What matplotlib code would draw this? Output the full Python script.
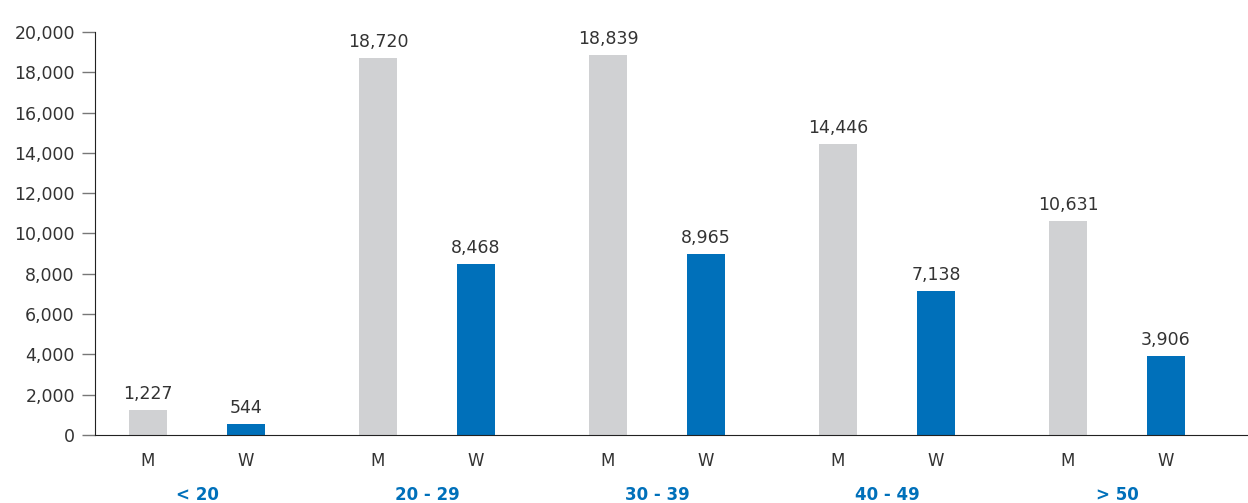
import matplotlib
matplotlib.use("Agg")
import matplotlib.pyplot as plt

groups = ["< 20", "20 - 29", "30 - 39", "40 - 49", "> 50"]
men = [1227, 18720, 18839, 14446, 10631]
women = [544, 8468, 8965, 7138, 3906]
sub_labels = ["M", "W"]
yticks = list(range(0, 20001, 2000))

gray = "#D0D1D3"
blue = "#0070BA"
txt = "#333333"

plt.rcParams['font.family'] = ['DejaVu Sans']

fig = plt.figure(figsize=(12.48, 5.03), dpi=100)
ax = fig.add_axes([95/1248, (503-435)/503, 1 - 95/1248, (435-32)/503])

step = 2.3
off = 0.98
w = 0.38
xm = [i*step for i in range(len(groups))]
xw = [i*step + off for i in range(len(groups))]

ax.bar(xm, men, width=w, color=gray)
ax.bar(xw, women, width=w, color=blue)

for x, v in zip(xm, men):
    ax.annotate(f"{v:,}", (x, v), xytext=(0, 5), textcoords="offset points",
                ha="center", va="bottom", fontsize=12.5, color=txt)
for x, v in zip(xw, women):
    ax.annotate(f"{v:,}", (x, v), xytext=(0, 5), textcoords="offset points",
                ha="center", va="bottom", fontsize=12.5, color=txt)

ax.set_xlim(-0.53, 11.0)
ax.set_ylim(0, 20000)
ax.set_yticks(yticks)
ax.set_yticklabels([f"{t:,}" for t in yticks], fontsize=12.5, color=txt)
ax.tick_params(axis="y", length=9.5, width=1, color="#777777", pad=5)

xt = []
xl = []
for a, b in zip(xm, xw):
    xt += [a, b]
    xl += sub_labels
ax.set_xticks(xt)
ax.set_xticklabels(xl, fontsize=12, color=txt)
ax.tick_params(axis="x", length=0, pad=12)

for i, g in enumerate(groups):
    ax.text((xm[i] + xw[i]) / 2, -0.148, g, transform=ax.get_xaxis_transform(),
            ha="center", va="center", fontsize=12, fontweight="bold", color=blue)

for s in ["top", "right"]:
    ax.spines[s].set_visible(False)
ax.spines["left"].set_color("#222222")
ax.spines["bottom"].set_color("#222222")

fig.savefig("out.png", dpi=100)
